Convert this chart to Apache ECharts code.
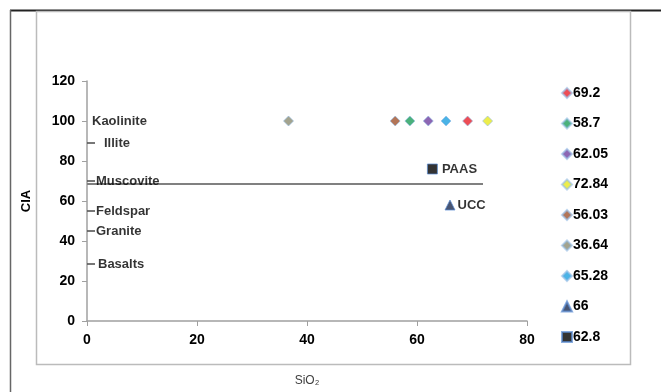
<!DOCTYPE html>
<html><head><meta charset="utf-8">
<script src="https://cdn.jsdelivr.net/npm/echarts@6/dist/echarts.min.js"></script>
<style>html,body{margin:0;padding:0;background:#fff}#c{width:661px;height:392px}</style>
</head><body><div id="c"></div>
<script>
// Sample points (SiO2, CIA)
const sampleNames = ['69.2','58.7','62.05','72.84','56.03','36.64','65.28'];
const sampleSiO2 = [69.2, 58.7, 62.05, 72.84, 56.03, 36.64, 65.28];
const sampleCIA = [100, 100, 100, 100, 100, 100, 100];
const sampleColors = ['#e8202a','#1e9e5a','#7040a0','#e8e81e','#a0522d','#8c8c72','#1ea0e0'];
// Reference compositions
const uccName = '66', uccSiO2 = 66, uccCIA = 58;
const paasName = '62.8', paasSiO2 = 62.8, paasCIA = 76;
// Mineral reference CIA values
const minerals = ['Kaolinite','Illite','Muscovite','Feldspar','Granite','Basalts'];
const mineralCIA = [100, 89, 70, 55, 45, 28.5];
// Horizontal reference line
const refLineX = [0, 72];
const refLineY = [68.5, 68.5];
const xTicks = [0, 20, 40, 60, 80];
const yTicks = [0, 20, 40, 60, 80, 100, 120];

const FONT = 'Liberation Sans';
const chart = echarts.init(document.getElementById('c'));
const series = [];
sampleNames.forEach((n, i) => {
  series.push({
    name: n, type: 'scatter', symbol: 'diamond', symbolSize: 10,
    itemStyle: { color: sampleColors[i], borderColor: 'rgba(150,190,230,0.8)', borderWidth: 1 },
    data: [[sampleSiO2[i], sampleCIA[i]]], z: 5
  });
});
series.push({
  name: uccName, type: 'scatter', symbol: 'triangle', symbolSize: 10,
  itemStyle: { color: '#1a2a50', borderColor: 'rgba(90,140,210,0.9)', borderWidth: 1 },
  label: { show: true, position: 'right', distance: 2, formatter: 'UCC', color: '#000', fontFamily: FONT, fontWeight: 'bold', fontSize: 13 },
  data: [[uccSiO2, uccCIA]], z: 5
});
series.push({
  name: paasName, type: 'scatter', symbol: 'rect', symbolSize: 10,
  itemStyle: { color: '#000', borderColor: 'rgba(90,140,210,0.9)', borderWidth: 1 },
  label: { show: true, position: 'right', distance: 4, formatter: 'PAAS', color: '#000', fontFamily: FONT, fontWeight: 'bold', fontSize: 13 },
  data: [[paasSiO2, paasCIA]], z: 5
});
series.push({
  name: 'line', type: 'line', symbol: 'none', silent: true,
  lineStyle: { color: '#808080', width: 2 },
  data: refLineX.map((x, i) => [x, refLineY[i]]), z: 3
});
const labelOffsets = [[-4,0],[8,0],[0,0],[0,0],[0,0],[2,0]];
series.push({
  name: 'minerals', type: 'scatter', symbol: 'rect', symbolSize: [8, 2], symbolOffset: [4, 0],
  itemStyle: { color: '#555' },
  data: minerals.map((m, i) => ({
    value: [0, mineralCIA[i]], name: m,
    itemStyle: i === 0 ? { color: 'rgba(0,0,0,0)' } : undefined,
    label: { offset: labelOffsets[i] }
  })),
  label: { show: true, position: 'right', distance: 1, formatter: p => p.name, color: '#000', fontFamily: FONT, fontWeight: 'bold', fontSize: 13 },
  z: 6
});

chart.setOption({
  animation: false,
  backgroundColor: '#fff',
  textStyle: { fontFamily: FONT },
  graphic: [
    { type: 'line', shape: { x1: 10, y1: 10.5, x2: 661, y2: 10.5 }, style: { stroke: '#222', lineWidth: 2 } },
    { type: 'line', shape: { x1: 10.5, y1: 10, x2: 10.5, y2: 392 }, style: { stroke: '#666', lineWidth: 1.5 } },
    { type: 'rect', shape: { x: 36.5, y: 11.5, width: 594, height: 353 }, style: { fill: 'none', stroke: '#bbb', lineWidth: 1.5 } }
  ],
  grid: { left: 87, right: 134, top: 81, bottom: 67 },
  legend: {
    orient: 'vertical', left: 556, top: 81,
    data: sampleNames.concat([uccName, paasName]),
    itemWidth: 10, itemHeight: 10, itemGap: 16.5,
    textStyle: { fontFamily: FONT, fontWeight: 'bold', fontSize: 14, color: '#000', padding: [0, 0, 0, -4] }
  },
  xAxis: {
    type: 'value', min: xTicks[0], max: xTicks[xTicks.length - 1], interval: 20,
    name: 'SiO₂', nameLocation: 'middle', nameGap: 54,
    nameTextStyle: { fontFamily: FONT, fontSize: 12, color: '#404040' },
    axisLine: { show: true, lineStyle: { color: '#a0a0a0', width: 1.5 } },
    axisTick: { show: true, length: 5, lineStyle: { color: '#a0a0a0' } },
    axisLabel: { fontFamily: FONT, fontWeight: 'bold', fontSize: 14, color: '#000', margin: 12 },
    splitLine: { show: false }
  },
  yAxis: {
    type: 'value', min: yTicks[0], max: yTicks[yTicks.length - 1], interval: 20,
    name: 'CIA', nameLocation: 'middle', nameGap: 54,
    nameTextStyle: { fontFamily: FONT, fontWeight: 'bold', fontSize: 13, color: '#000' },
    axisLine: { show: true, lineStyle: { color: '#a0a0a0', width: 1.5 } },
    axisTick: { show: true, length: 5, lineStyle: { color: '#a0a0a0' } },
    axisLabel: { fontFamily: FONT, fontWeight: 'bold', fontSize: 14, color: '#000', margin: 12 },
    splitLine: { show: false }
  },
  series: series
});
</script>
</body></html>
